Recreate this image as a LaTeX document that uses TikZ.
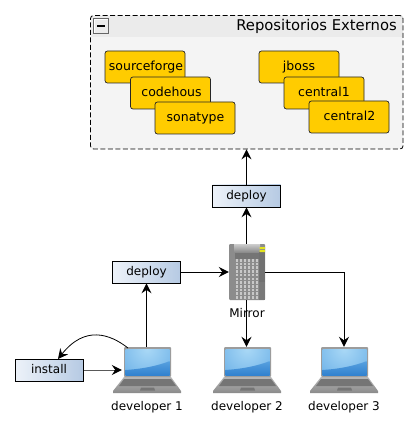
\documentclass[tikz,border=0pt]{standalone}
\usepackage{fontspec}
\setmainfont{DejaVu Sans}
\usetikzlibrary{arrows.meta,positioning}
\definecolor{repoorange}{HTML}{FFCC00}
\definecolor{groupgray}{HTML}{F4F4F4}
\definecolor{headgray}{HTML}{EBEBEB}
\definecolor{actionleft}{HTML}{EDF2F9}
\definecolor{actionright}{HTML}{B6CAE3}
\definecolor{screentop}{HTML}{A9D8F6}
\definecolor{screenmid}{HTML}{68AEE6}
\definecolor{screenbot}{HTML}{2F80CE}
\definecolor{lapbody}{HTML}{B8B8B8}
\definecolor{lapkeys}{HTML}{757575}
\definecolor{rackdark}{HTML}{6A6A6A}
\definecolor{rackmid}{HTML}{8C8C8C}
\definecolor{racklight}{HTML}{C8C8C8}
\tikzset{
  laptop/.pic={
    \shade[top color=lapbody, bottom color=lapbody!75!black] (-23,7) -- (24,7) -- (34,21) -- (34,23) -- (-34,23) -- (-34,21) -- cycle;
    \fill[lapkeys] (-23,9) -- (24,9) -- (29,16) -- (-28,16) -- cycle;
    \fill[lapkeys] (-6,17.5) -- (7,17.5) -- (8,20.5) -- (-7,20.5) -- cycle;
    \fill[rounded corners=1pt, lapbody!85!black] (-23,-23) rectangle (24,7);
    \begin{scope}
      \clip (-21.5,-21) rectangle (22.5,5.5);
      \shade[inner color=screentop, outer color=screenmid] (0,-21) circle (38);
      \shade[top color=screenmid!70!screenbot, bottom color=screenbot] (-22,0) .. controls (-5,-1) and (10,-4) .. (23,-9) -- (23,6) -- (-22,6) -- cycle;
    \end{scope}
  },
  mirrorrack/.pic={
    \fill[rackmid, rounded corners=1pt] (-18,-28) rectangle (18,28);
    \fill[rackmid!120!white] (-12,-28) rectangle (12,-13);
    \shade[top color=racklight!90!white, bottom color=rackmid] (-13,-28) rectangle (13,-20);
    \fill[rackdark!90!white] (12,10) rectangle (18,28);
    \fill[rackdark!80!rackmid] (12,-20) rectangle (18,10);
    \fill[yellow!70!lime!90!gray] (12.5,-25) rectangle (18,-23) (12.5,-22) rectangle (18,-20);
    \foreach \rowy in {-13,-9.3,...,24}
      \foreach \colx in {-10,-6,...,10}
        \fill[racklight] (\colx-1.4,\rowy) rectangle (\colx+1.4,\rowy+2.6);
  }
}
\begin{document}
\begin{tikzpicture}[
  x=1pt, y=-1pt,
  font=\fontsize{12pt}{14pt}\selectfont,
  repo/.style={draw=black!85, rounded corners=2.5pt, fill=repoorange, line width=0.7pt,
               minimum width=80pt, minimum height=32pt, inner sep=0pt, text height=10pt, text depth=2pt,
               font=\fontsize{12.5pt}{14pt}\selectfont},
  action/.style={draw=black, left color=actionleft, right color=actionright, line width=0.7pt,
                 minimum width=68pt, minimum height=22pt, inner sep=0pt, text height=9pt, text depth=2.5pt},
  device/.style={minimum width=68pt, minimum height=46pt, inner sep=0pt},
  rack/.style={minimum width=36pt, minimum height=56pt, inner sep=0pt},
  caption/.style={inner sep=0pt, text height=9pt, text depth=2.5pt},
  arrow/.style={-{Stealth[length=10pt, width=10pt, inset=3.5pt]}, line width=1pt, black}
]
\useasboundingbox (0,0) rectangle (418,430);
\fill[white] (0,0) rectangle (418,430);

% external group
\fill[groupgray, rounded corners=3pt] (90.5,15.5) rectangle (403,149);
\fill[headgray] (91,16) rectangle (402.5,37);
\node[draw=white, line width=0.8pt, fill=none, minimum size=14pt, inner sep=0pt] (collapse) at (101,26) {};
\draw[black!60, line width=0.5pt] (collapse.south west) rectangle (collapse.north east);
\fill[black] (97,25) rectangle (105,27);
\node[anchor=east, font=\fontsize{14.8pt}{16pt}\selectfont, caption] (reposlabel) at (397,27) {Repositorios Externos};
\node[draw=black, dash pattern=on 5pt off 2.5pt, rounded corners=3pt, line width=0.8pt, minimum width=312.5pt, minimum height=133.5pt, inner sep=0pt] (repos) at (246.75,82.25) {};

\node[repo] (sourceforge) at (145,67) {\hspace{2pt}sourceforge};
\node[repo] (codehous) at (170.5,93) {\hspace{2pt}codehous};
\node[repo] (sonatype) at (195,118) {\hspace{1pt}sonatype};
\node[repo] (jboss) at (299,67) {jboss};
\node[repo] (central1) at (324,93) {central1};
\node[repo] (central2) at (349,117) {\hspace{1pt}central2};

% actions
\node[action] (deploytop) at (246.5,196) {deploy};
\node[action] (deployleft) at (146.5,272) {deploy};
\node[action] (install) at (49,370) {install};

% machines
\node[rack] (mirror) at (247,272) {};
\pic at (mirror) {mirrorrack};
\node[caption, below=8pt of mirror] (mirrorlabel) {Mirror};

\node[device] (dev1) at (147,370) {};
\pic at (dev1) {laptop};
\node[caption, below=8pt of dev1] (dev1label) {developer 1};
\node[device] (dev2) at (247,370) {};
\pic at (dev2) {laptop};
\node[caption, below=8pt of dev2] (dev2label) {developer 2};
\node[device] (dev3) at (344,370) {};
\pic at (dev3) {laptop};
\node[caption, below=8pt of dev3] (dev3label) {developer 3};

% connectors
\draw[arrow] (mirror.north -| deploytop) -- (deploytop);
\draw[arrow] (deploytop) -- (deploytop |- repos.south);
\draw[arrow] (dev1.north -| deployleft) -- (deployleft);
\draw[arrow] (deployleft) -- (mirror);
\draw[arrow] (mirror.south -| deploytop) -- (dev2.north -| deploytop);
\draw[arrow] (mirror.east) -| (dev3.north);
\draw[arrow] (install) -- (install -| dev1.west) -- ++(9,0);
\coordinate (loopstart) at (128,348);
\draw[arrow, line width=0.8pt] (loopstart) .. controls (110,334) and (85,325) .. (58,359);
\end{tikzpicture}
\end{document}
